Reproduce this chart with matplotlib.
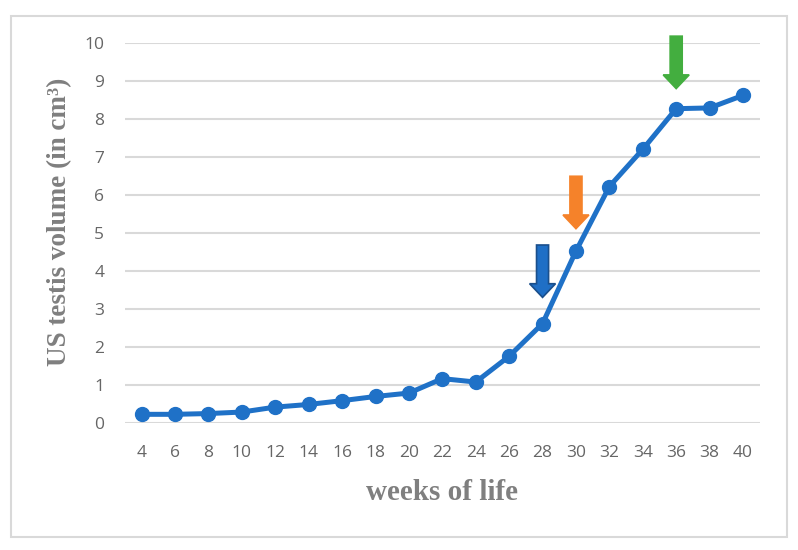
import matplotlib.pyplot as plt
from matplotlib.patches import FancyArrow, Rectangle

# data
weeks = [4, 6, 8, 10, 12, 14, 16, 18, 20, 22, 24, 26, 28, 30, 32, 34, 36, 38, 40]
volume = [0.22, 0.22, 0.24, 0.28, 0.41, 0.48, 0.58, 0.69, 0.78, 1.16, 1.07,
          1.75, 2.61, 4.52, 6.22, 7.2, 8.27, 8.29, 8.62]
arrow_weeks = [28, 30, 36]
arrow_top = [4.68, 6.49, 10.18]
arrow_tip = [3.3, 5.11, 8.8]
arrow_fill = ['#1f6fc6', '#f5822a', '#43ae3f']
arrow_edge = ['#1a4f8c', '#f5822a', '#43ae3f']

fig = plt.figure(figsize=(7.98, 5.5), dpi=100)
ax = fig.add_axes([0.1566, 0.2315, 0.7954, 0.6903])

# outer frame
fig.patches.append(Rectangle((11 / 798, 1 - 537 / 550), 776 / 798, 521 / 550,
                             transform=fig.transFigure, fill=False,
                             edgecolor='#d9d9d9', linewidth=1.5))

ax.plot(weeks, volume, color='#1f71c7', linewidth=3.6, marker='o',
        markersize=10, zorder=3)

for x, top, tip, fc, ec in zip(arrow_weeks, arrow_top, arrow_tip, arrow_fill, arrow_edge):
    ar = FancyArrow(x, top, 0, tip - top, width=0.72, head_width=1.55,
                    head_length=0.36, length_includes_head=True,
                    facecolor=fc, edgecolor=ec, linewidth=1.2, clip_on=False,
                    zorder=4)
    ax.add_patch(ar)

ax.set_xlim(weeks[0] - 1, weeks[-1] + 1)
ax.set_ylim(0, 10)
ax.set_xticks(weeks)
ax.set_yticks(range(0, 11))
ax.grid(axis='y', color='#d9d9d9', linewidth=1.5)
ax.set_axisbelow(True)
for s in ['top', 'right', 'left', 'bottom']:
    ax.spines[s].set_visible(False)
ax.tick_params(length=0, colors='#666666', labelsize=12.5)
ax.tick_params(axis='x', pad=16)
ax.tick_params(axis='y', pad=15)
for lab in ax.get_xticklabels() + ax.get_yticklabels():
    lab.set_family('Open Sans')

label_font = dict(family='Liberation Serif', fontweight='bold', color='#7f7f7f')
ax.set_xlabel('weeks of life', labelpad=13, fontsize=21, **label_font)
ax.set_ylabel('US testis volume (in cm³)', fontsize=19.5, **label_font)
ax.yaxis.set_label_coords(-0.083, 0.53)

fig.savefig('out.png', dpi=100)
